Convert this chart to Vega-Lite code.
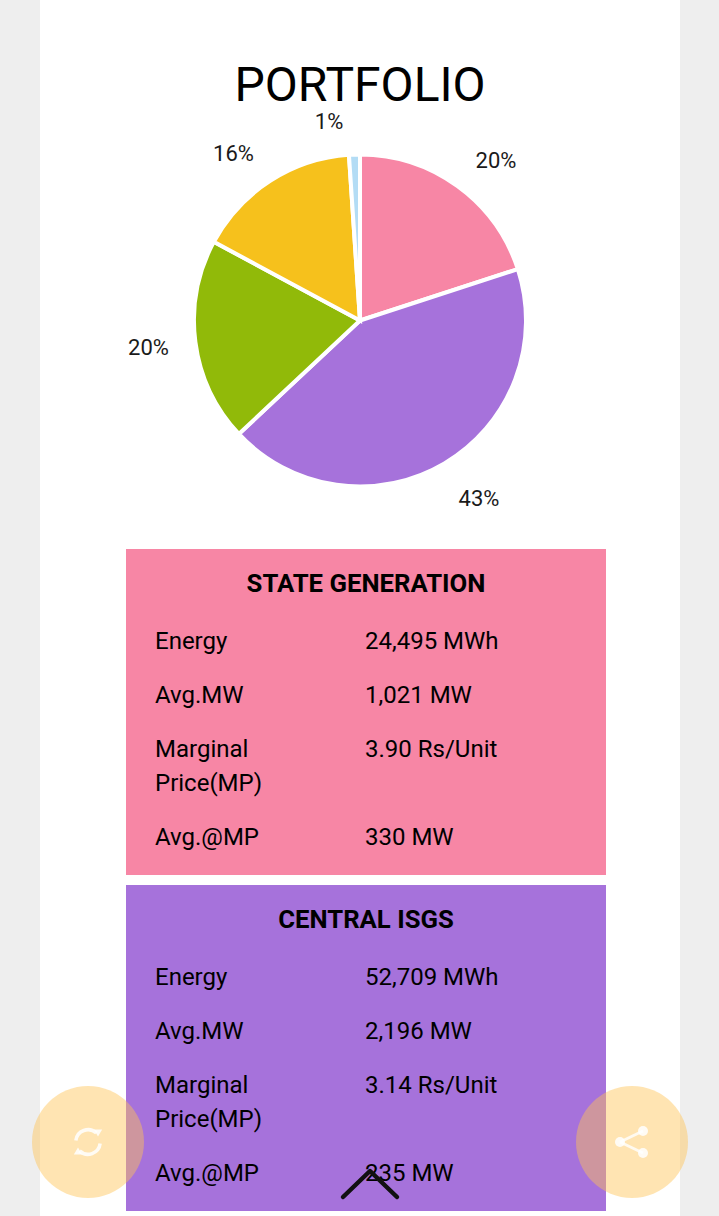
{
"$schema":"https://vega.github.io/schema/vega-lite/v6.json",
"width":719,"height":1216,
"autosize":{"type":"fit","contains":"padding"},
"padding":0,
"background":"#ffffff",
"config":{"view":{"stroke":null},"text":{"font":"Roboto"}},
"datasets":{
"panels":[
{"panel":"page","col":0,"col2":16,"line":0,"line2":22},
{"panel":"column","col":1,"col2":15,"line":0,"line2":22},
{"panel":"STATE GENERATION","col":3,"col2":11,"line":3,"line2":10},
{"panel":"CENTRAL ISGS","col":3,"col2":11,"line":11,"line2":21}
],
"slices":[
{"source":"STATE GENERATION","mwh":24495,"rank":1,"pct":"20%","col":6,"line":2,"labelCol":10.6,"labelLine":1.6},
{"source":"CENTRAL ISGS","mwh":52709,"rank":2,"pct":"43%","col":6,"line":2,"labelCol":10.3,"labelLine":2.7},
{"source":"Green","mwh":24300,"rank":3,"pct":"20%","col":6,"line":2,"labelCol":3.5,"labelLine":2.3},
{"source":"Yellow","mwh":19700,"rank":4,"pct":"16%","col":6,"line":2,"labelCol":4.3,"labelLine":1.4},
{"source":"Blue","mwh":1300,"rank":5,"pct":"1%","col":6,"line":2,"labelCol":4.7,"labelLine":1.2}
],
"heads":[
{"text":"STATE GENERATION","col":8,"line":4},
{"text":"CENTRAL ISGS","col":8,"line":12}
],
"rows":[
{"text":"Energy","col":4,"line":5},{"text":"24,495 MWh","col":7,"line":5},
{"text":"Avg.MW","col":4,"line":6},{"text":"1,021 MW","col":7,"line":6},
{"text":"Marginal","col":4,"line":7},{"text":"3.90 Rs/Unit","col":7,"line":7},
{"text":"Price(MP)","col":4,"line":8},
{"text":"Avg.@MP","col":4,"line":9},{"text":"330 MW","col":7,"line":9},
{"text":"Energy","col":4,"line":13},{"text":"52,709 MWh","col":7,"line":13},
{"text":"Avg.MW","col":4,"line":14},{"text":"2,196 MW","col":7,"line":14},
{"text":"Marginal","col":4,"line":15},{"text":"3.14 Rs/Unit","col":7,"line":15},
{"text":"Price(MP)","col":4,"line":16},
{"text":"Avg.@MP","col":4,"line":19},{"text":"235 MW","col":7,"line":19}
],
"buttons":[{"button":"refresh","col":2,"line":17},{"button":"share","col":13,"line":17}],
"chevron":[{"col":5,"line":20},{"col":9,"line":18},{"col":10,"line":20}],
"shareNodes":[{"col":12,"line":17},{"col":14,"line":16.5},{"col":14,"line":17.5}],
"shareLinks":[{"col":12,"line":17,"col2":14,"line2":16.5},{"col":12,"line":17,"col2":14,"line2":17.5}]
},
"encoding":{
"x":{"field":"col","type":"quantitative","axis":null,"scale":{"domain":[0,1,1.8,2,2.4,3,3.5,4,4.3,4.7,5,6,7,8,9,10,10.3,10.6,11,12,13,14,15,16],"range":[0,40,78,88,98,126,148.5,155,233.5,329,343,360,365,366,370,397,479,496,606,620,632,643,680,719],"nice":false,"zero":false}},
"y":{"field":"line","type":"quantitative","axis":null,"scale":{"domain":[0,1,1.2,1.4,1.6,2,2.3,2.7,3,4,5,6,7,8,9,10,11,12,13,14,15,16,16.5,17,17.5,18,19,20,21,22],"range":[0,84,121.5,153.5,160.5,320.5,347.5,498.5,549,583,641,695,749,783,837,875,885,919,977,1031,1085,1119,1131,1142,1153,1171,1173,1197,1211,1216],"nice":false,"zero":false}}
},
"layer":[
{"data":{"name":"panels"},"mark":{"type":"rect"},
"encoding":{"x2":{"field":"col2"},"y2":{"field":"line2"},
"color":{"field":"panel","type":"nominal","legend":null,"sort":null,"scale":{"domain":["page","column","STATE GENERATION","CENTRAL ISGS","Green","Yellow","Blue"],"range":["#eeeeee","#ffffff","#F786A5","#A672DB","#91BA09","#F6C11C","#B3DCF5"]}}}},
{"data":{"name":"slices"},"mark":{"type":"arc","outerRadius":166,"stroke":"#ffffff","strokeWidth":4},
"encoding":{"theta":{"field":"mwh","type":"quantitative","stack":true},"order":{"field":"rank"},
"color":{"field":"source","type":"nominal","legend":null}}},
{"data":{"name":"slices"},"mark":{"type":"text","fontSize":22,"color":"#1a1a1a","baseline":"middle"},
"encoding":{"x":{"field":"labelCol","type":"quantitative"},"y":{"field":"labelLine","type":"quantitative"},"text":{"field":"pct"}}},
{"data":{"values":[{"text":"PORTFOLIO","col":6,"line":1}]},"mark":{"type":"text","fontSize":48,"color":"#000000","baseline":"middle","dy":3},"encoding":{"text":{"field":"text"}}},
{"data":{"name":"heads"},"mark":{"type":"text","fontSize":25.7,"fontWeight":"bold","color":"#000000","baseline":"middle","dy":1},"encoding":{"text":{"field":"text"}}},
{"data":{"name":"rows"},"mark":{"type":"text","fontSize":24,"align":"left","color":"#000000","baseline":"middle","dy":1},"encoding":{"text":{"field":"text"}}},
{"data":{"name":"chevron"},"mark":{"type":"line","color":"#111111","strokeWidth":4.5,"strokeCap":"round","strokeJoin":"round"},"encoding":{}},
{"data":{"name":"buttons"},"mark":{"type":"point","shape":"circle","filled":true,"size":12544,"color":"#FFC354","opacity":0.45},"encoding":{}},
{"data":{"name":"shareLinks"},"mark":{"type":"rule","color":"#ffffff","opacity":0.8,"strokeWidth":3},"encoding":{"x2":{"field":"col2"},"y2":{"field":"line2"}}},
{"data":{"name":"shareNodes"},"mark":{"type":"point","shape":"circle","filled":true,"size":100,"color":"#ffffff","opacity":0.85},"encoding":{}},
{"data":{"name":"buttons"},"transform":[{"filter":"datum.button=='refresh'"}],"mark":{"type":"arc","innerRadius":10.5,"outerRadius":14,"theta":-1.45,"theta2":0.75,"fill":"#ffffff","opacity":0.85},"encoding":{}},
{"data":{"name":"buttons"},"transform":[{"filter":"datum.button=='refresh'"}],"mark":{"type":"arc","innerRadius":10.5,"outerRadius":14,"theta":1.7,"theta2":3.9,"fill":"#ffffff","opacity":0.85},"encoding":{}},
{"data":{"values":[{"arrow":"upper","col":2.4,"line":16.5}]},"mark":{"type":"point","shape":"triangle-down","filled":true,"size":70,"color":"#ffffff","opacity":0.85,"yOffset":2},"encoding":{}},
{"data":{"values":[{"arrow":"lower","col":1.8,"line":17.5}]},"mark":{"type":"point","shape":"triangle-up","filled":true,"size":70,"color":"#ffffff","opacity":0.85,"yOffset":-2},"encoding":{}}
]
}
